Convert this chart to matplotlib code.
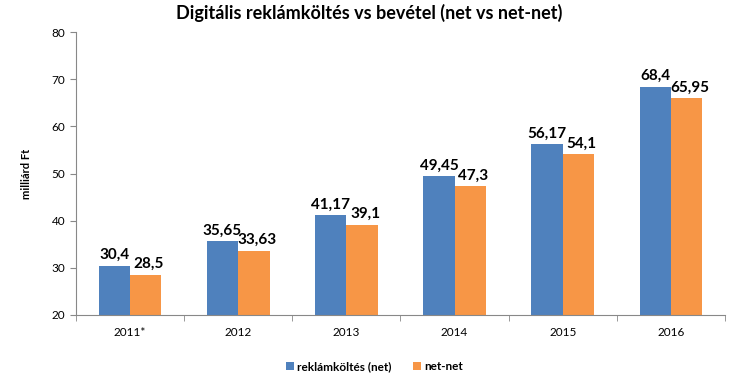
import matplotlib.pyplot as plt
import numpy as np

plt.rcParams['font.family'] = ['Lato', 'DejaVu Sans']

years = ['2011*', '2012', '2013', '2014', '2015', '2016']
net = [30.4, 35.65, 41.17, 49.45, 56.17, 68.4]
netnet = [28.5, 33.63, 39.1, 47.3, 54.1, 65.95]

blue = '#4F81BD'
orange = '#F79646'

fig = plt.figure(figsize=(7.43, 3.74), dpi=100)
ax = fig.add_axes([0.102, 0.158, 0.874, 0.756])

x = np.arange(len(years))
w = 0.29
ax.bar(x - w / 2, [v - 20 for v in net], w, bottom=20, color=blue, label='reklámköltés (net)')
ax.bar(x + w / 2, [v - 20 for v in netnet], w, bottom=20, color=orange, label='net-net')

# data labels
for xi, v in zip(x, net):
    ax.text(xi - w / 2, v + 0.8, str(v).replace('.', ','), ha='center', va='bottom',
            fontsize=11, fontweight='bold')
for xi, v in zip(x, netnet):
    ax.text(xi + w / 2 + 0.03, v + 0.8, str(v).replace('.', ','), ha='center', va='bottom',
            fontsize=11, fontweight='bold')

ax.set_ylim(20, 80)
ax.set_xlim(-0.5, len(years) - 0.5)
ax.set_yticks(range(20, 81, 10))
ax.set_xticks(x)
ax.set_xticklabels(years)
ax.set_xticks(np.arange(-0.5, len(years)), minor=True)
ax.tick_params(axis='x', which='major', length=0, pad=9, labelsize=8.5)
ax.tick_params(axis='x', which='minor', length=4, color='#888888')
ax.tick_params(axis='y', length=4, color='#888888', labelsize=8.5)

for s in ['top', 'right']:
    ax.spines[s].set_visible(False)
for s in ['left', 'bottom']:
    ax.spines[s].set_color('#888888')

ax.set_ylabel('milliárd Ft', fontsize=8, fontweight='bold', labelpad=14)
fig.suptitle('Digitális reklámköltés vs bevétel (net vs net-net)', fontsize=13,
             fontweight='bold', x=0.497, y=0.99)

ax.legend(loc='lower center', bbox_to_anchor=(0.46, -0.24), ncol=2, frameon=False,
          prop={'size': 8.5, 'weight': 'bold'}, handlelength=0.7, handleheight=0.7,
          handletextpad=0.3, columnspacing=1.8)

fig.savefig('out.png', dpi=100)
